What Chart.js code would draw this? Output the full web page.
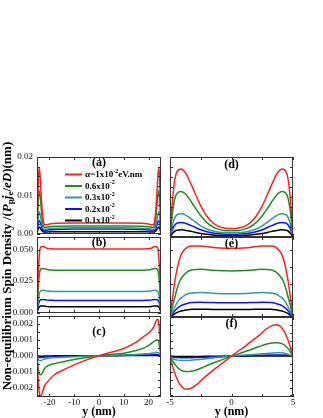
<!DOCTYPE html>
<html><head><meta charset="utf-8">
<script src="https://cdn.jsdelivr.net/npm/chart.js@4/dist/chart.umd.min.js"></script>
<style>
html,body{margin:0;padding:0;background:#fff;}
#wrap{position:relative;width:323px;height:418px;overflow:hidden;background:#fff;}
canvas{position:absolute;}
#ytitle{position:absolute;width:290px;height:16px;left:-138px;top:258px;transform:rotate(-90deg);
 font-family:'Liberation Serif',serif;font-weight:bold;font-size:13px;line-height:16px;text-align:center;white-space:nowrap;color:#000;}
#ytitle sub{font-size:9px;vertical-align:-2px;line-height:0;}
</style></head>
<body><div id="wrap">
<canvas id="ca" width="165" height="96" style="left:0;top:147px"></canvas>
<canvas id="cb" width="165" height="95" style="left:0;top:227px"></canvas>
<canvas id="cc" width="165" height="112" style="left:0;top:306px"></canvas>
<canvas id="cd" width="163" height="96" style="left:160px;top:147px"></canvas>
<canvas id="ce" width="163" height="96" style="left:160px;top:227px"></canvas>
<canvas id="cf" width="163" height="111" style="left:160px;top:307px"></canvas>
<div id="ytitle">Non-equilibrium Spin Density /(<i>P</i><sub>p</sub><i>j</i><sub>e</sub>/<i>eD</i>)(nm)</div>
</div>
<script>
// ---- series labels & colours ----
const seriesLabels = ['α=1x10^{-2}eV.nm', '0.6x10^{-2}', '0.3x10^{-2}', '0.2x10^{-2}', '0.1x10^{-2}'];
const seriesColors = ['#ff1f1f', '#1f8f1f', '#2f9a9a', '#1010ff', '#000000'];

// ---- ticks ----
const xTicksLeft = [-20, -10, 0, 10, 20];
const xLabelsLeft = ['-20', '-10', '0', '10', '20'];
const xTicksRight = [-5, -2.5, 0, 2.5, 5];
const xLabelsRight = ['-5', '', '0', '', '5'];
const yTicksTop = [0, 0.0025, 0.005, 0.0075, 0.01, 0.0125, 0.015, 0.0175, 0.02];
const yLabelsTop = ['0.00', '', '', '', '0.01', '', '', '', '0.02'];
const yTicksMid = [0, 0.0125, 0.025, 0.0375, 0.05];
const yLabelsMid = ['0.000', '', '0.025', '', '0.050'];
const yTicksBot = [-0.0025, -0.002, -0.0015, -0.001, -0.0005, 0, 0.0005, 0.001, 0.0015, 0.002];
const yLabelsBot = ['', '-0.002', '', '-0.001', '', '0.000', '', '0.001', '', '0.002'];

// ---- panel (a) ----
const xA = [-25,-24.6,-24.2,-23.8,-23.3,-22.8,-22.3,-21.8,-21,-20,-17,-10,0,10,17,20,21,21.8,22.3,22.8,23.3,23.8,24.2,24.6,25];
const redA = [0,0.011,0.0172,0.0155,0.010,0.0052,0.0028,0.0023,0.0023,0.0025,0.0027,0.00275,0.00275,0.00275,0.0027,0.0025,0.0023,0.0023,0.0028,0.0052,0.010,0.0155,0.0172,0.011,0];
const greenA = [0,0.0072,0.0112,0.0102,0.0066,0.0035,0.0019,0.0016,0.0017,0.0018,0.0019,0.002,0.002,0.002,0.0019,0.0018,0.0017,0.0016,0.0019,0.0035,0.0066,0.0102,0.0112,0.0072,0];
const tealA = [0,0.0037,0.0057,0.0052,0.0034,0.0019,0.0012,0.0011,0.0012,0.0013,0.0014,0.0015,0.0015,0.0015,0.0014,0.0013,0.0012,0.0011,0.0012,0.0019,0.0034,0.0052,0.0057,0.0037,0];
const blueA = [0,0.0022,0.0034,0.0031,0.0021,0.0012,0.0008,0.0008,0.0009,0.001,0.0011,0.0012,0.0012,0.0012,0.0011,0.001,0.0009,0.0008,0.0008,0.0012,0.0021,0.0031,0.0034,0.0022,0];
const blackA = [0,0.0011,0.0017,0.0015,0.001,0.0006,0.0004,0.0004,0.0004,0.0005,0.0005,0.0005,0.0005,0.0005,0.0005,0.0005,0.0004,0.0004,0.0004,0.0006,0.001,0.0015,0.0017,0.0011,0];

// ---- panel (b) ----
const xB = [-25,-24.5,-24,-23.5,-22.5,-21,-18,-10,0,10,18,21,22.5,23.5,24,24.5,25];
const redB = [0,0.03,0.047,0.052,0.0525,0.051,0.0505,0.0505,0.0505,0.0505,0.0505,0.051,0.0525,0.052,0.047,0.03,0];
const greenB = [0,0.02,0.031,0.0345,0.035,0.0342,0.0337,0.0336,0.0336,0.0336,0.0337,0.0342,0.035,0.0345,0.031,0.02,0];
const tealB = [0,0.010,0.0155,0.0173,0.0177,0.0172,0.0168,0.0167,0.0167,0.0167,0.0168,0.0172,0.0177,0.0173,0.0155,0.010,0];
const blueB = [0,0.006,0.0092,0.0102,0.0104,0.0099,0.0097,0.0096,0.0096,0.0096,0.0097,0.0099,0.0104,0.0102,0.0092,0.006,0];
const blackB = [0,0.003,0.0046,0.0052,0.0053,0.0049,0.0047,0.0046,0.0046,0.0046,0.0047,0.0049,0.0053,0.0052,0.0046,0.003,0];

// ---- panel (c) ----
const xC = [-25,-24.5,-24,-23.4,-22.8,-22,-20.5,-18,-15,-10,-5,0,5,10,15,18,20.5,22,22.8,23.4,24,24.5,25];
const redC = [0,-0.0016,-0.0024,-0.00254,-0.0023,-0.0019,-0.0016,-0.0012,-0.00095,-0.00058,-0.00026,0,0.00022,0.00045,0.00085,0.0012,0.0015,0.0018,0.0021,0.0023,0.0022,0.0012,0];
const greenC = [0,-0.0008,-0.00118,-0.0012,-0.00108,-0.00082,-0.00062,-0.0005,-0.0004,-0.00024,-0.00011,0,0.00008,0.00016,0.00033,0.00048,0.0007,0.00088,0.00097,0.001,0.00092,0.0005,0];
const tealC = [0,-0.00022,-0.0003,-0.0003,-0.00026,-0.00021,-0.00016,-0.00012,-0.0001,-0.00006,-0.00003,0,0.00002,0.00005,0.00008,0.00011,0.00014,0.00017,0.0002,0.00022,0.0002,0.0001,0];
const blueC = [0,-0.00008,-0.00011,-0.00011,-0.0001,-0.00008,-0.00006,-0.00005,-0.00004,-0.00002,-0.00001,0,0.00001,0.00002,0.00003,0.00004,0.00005,0.00006,0.00007,0.00007,0.00006,0.00003,0];
const blackC = [0,-0.00002,-0.00003,-0.00003,-0.00003,-0.00002,-0.00002,-0.00001,-0.00001,-0.00001,0,0,0,0.00001,0.00001,0.00001,0.00002,0.00002,0.00002,0.00002,0.00002,0.00001,0];

// ---- panel (d) ----
const xD = [-5,-4.8,-4.6,-4.4,-4.1,-3.8,-3.4,-3,-2.5,-2,-1.5,-1,-0.5,0,0.5,1,1.5,2,2.5,3,3.4,3.8,4.1,4.4,4.6,4.8,5];
const redD = [0,0.009,0.0145,0.0165,0.017,0.0163,0.014,0.0112,0.0078,0.0052,0.0035,0.0026,0.0022,0.0021,0.0022,0.0026,0.0035,0.0052,0.0078,0.0112,0.014,0.0163,0.017,0.0165,0.0145,0.009,0];
const greenD = [0,0.006,0.0097,0.011,0.0114,0.0109,0.0094,0.0075,0.0053,0.0036,0.0025,0.0019,0.0016,0.0016,0.0016,0.0019,0.0025,0.0036,0.0053,0.0075,0.0094,0.0109,0.0114,0.011,0.0097,0.006,0];
const tealD = [0,0.003,0.0049,0.0056,0.0058,0.0056,0.0048,0.0039,0.0028,0.002,0.0015,0.0012,0.0011,0.0011,0.0011,0.0012,0.0015,0.002,0.0028,0.0039,0.0048,0.0056,0.0058,0.0056,0.0049,0.003,0];
const blueD = [0,0.0019,0.003,0.0035,0.0036,0.0035,0.003,0.0025,0.0018,0.0013,0.001,0.0008,0.0007,0.0007,0.0007,0.0008,0.001,0.0013,0.0018,0.0025,0.003,0.0035,0.0036,0.0035,0.003,0.0019,0];
const blackD = [0,0.0009,0.0015,0.0017,0.0018,0.0017,0.0015,0.0012,0.0009,0.0007,0.0005,0.0004,0.0004,0.0004,0.0004,0.0004,0.0005,0.0007,0.0009,0.0012,0.0015,0.0017,0.0018,0.0017,0.0015,0.0009,0];

// ---- panel (e) ----
const xE = [-5,-4.8,-4.6,-4.4,-4.2,-4,-3.6,-3.2,-2.5,-2,-1.5,-1,-0.5,0,0.5,1,1.5,2,2.5,3.2,3.6,4,4.2,4.4,4.6,4.8,5];
const redE = [0,0.014,0.027,0.037,0.044,0.0485,0.0523,0.0532,0.0532,0.0528,0.0522,0.0518,0.0515,0.0515,0.0515,0.0518,0.0522,0.0528,0.0532,0.0532,0.0523,0.0485,0.044,0.037,0.027,0.014,0];
const greenE = [0,0.008,0.015,0.022,0.027,0.030,0.0338,0.0355,0.0358,0.0355,0.0351,0.0348,0.0346,0.0345,0.0346,0.0348,0.0351,0.0355,0.0358,0.0355,0.0338,0.030,0.027,0.022,0.015,0.008,0];
const tealE = [0,0.004,0.0077,0.011,0.0135,0.015,0.0172,0.018,0.0183,0.0181,0.0178,0.0176,0.0174,0.0174,0.0174,0.0176,0.0178,0.0181,0.0183,0.018,0.0172,0.015,0.0135,0.011,0.0077,0.004,0];
const blueE = [0,0.0025,0.0047,0.0066,0.008,0.009,0.0102,0.0108,0.011,0.0109,0.0108,0.0107,0.0106,0.0106,0.0106,0.0107,0.0108,0.0109,0.011,0.0108,0.0102,0.009,0.008,0.0066,0.0047,0.0025,0];
const blackE = [0,0.0013,0.0025,0.0035,0.0042,0.0047,0.0054,0.0058,0.0059,0.0058,0.0057,0.0057,0.0056,0.0056,0.0056,0.0057,0.0057,0.0058,0.0059,0.0058,0.0054,0.0047,0.0042,0.0035,0.0025,0.0013,0];

// ---- panel (f) ----
const xF = [-5,-4.7,-4.4,-4.1,-3.7,-3.3,-2.8,-2.2,-1.5,-1,-0.5,0,0.5,1,1.5,2.2,2.8,3.3,3.7,4.1,4.4,4.7,5];
const redF = [0,-0.0009,-0.0015,-0.0019,-0.0021,-0.00205,-0.0018,-0.00135,-0.0009,-0.0006,-0.0003,0,0.0003,0.00057,0.00088,0.0013,0.00172,0.00195,0.002,0.0018,0.0014,0.0008,0];
const greenF = [0,-0.0004,-0.0007,-0.0009,-0.00098,-0.00096,-0.00086,-0.00066,-0.00043,-0.00029,-0.00014,0,0.00013,0.00027,0.0004,0.0006,0.00076,0.00084,0.00086,0.0008,0.00065,0.00038,0];
const tealF = [0,-0.00018,-0.00025,-0.00028,-0.00028,-0.00026,-0.00022,-0.00017,-0.00011,-0.00007,-0.00004,0,0.00004,0.00007,0.0001,0.00014,0.00018,0.0002,0.00022,0.00022,0.00018,0.0001,0];
const blueF = [0,-0.00006,-0.00009,-0.0001,-0.0001,-0.0001,-0.00008,-0.00006,-0.00004,-0.00003,-0.00001,0,0.00001,0.00003,0.00004,0.00005,0.00007,0.00008,0.00008,0.00008,0.00007,0.00004,0];
const blackF = [0,-0.00001,-0.00002,-0.00002,-0.00002,-0.00002,-0.00002,-0.00001,-0.00001,0,0,0,0,0,0.00001,0.00001,0.00001,0.00002,0.00002,0.00002,0.00002,0.00001,0];

const SERIF = "'Liberation Serif', 'Times New Roman', serif";

// frame + inward ticks
const framePlugin = {
  id: 'frame',
  afterDraw(chart) {
    const {ctx, chartArea: a, scales} = chart;
    ctx.save();
    ctx.strokeStyle = '#333';
    ctx.lineWidth = 1;
    ctx.beginPath();
    scales.x.ticks.forEach(t => {
      const p = Math.round(scales.x.getPixelForValue(t.value)) + 0.5;
      ctx.moveTo(p, a.bottom); ctx.lineTo(p, a.bottom - 3);
      ctx.moveTo(p, a.top); ctx.lineTo(p, a.top + 3);
    });
    scales.y.ticks.forEach(t => {
      const p = Math.round(scales.y.getPixelForValue(t.value)) + 0.5;
      ctx.moveTo(a.left, p); ctx.lineTo(a.left + 3, p);
      ctx.moveTo(a.right, p); ctx.lineTo(a.right - 3, p);
    });
    ctx.stroke();
    ctx.strokeRect(Math.round(a.left) + 0.5, Math.round(a.top) + 0.5, Math.round(a.width) - 1, Math.round(a.height) - 1);
    ctx.restore();
  }
};

// panel label and inside legend
const annotPlugin = {
  id: 'annot',
  afterDatasetsDraw(chart, args, opts) {
    const {ctx, chartArea: a} = chart;
    ctx.save();
    ctx.fillStyle = '#000';
    ctx.font = 'bold 12px ' + SERIF;
    ctx.textAlign = 'center';
    ctx.textBaseline = 'middle';
    ctx.fillText(opts.label, (a.left + a.right) / 2, a.top + opts.labelDy);
    if (opts.legend) {
      chart.data.datasets.forEach((ds, i) => {
        const y = a.top + opts.legendTop + i * opts.legendGap;
        const x0 = a.left + opts.legendLeft;
        ctx.strokeStyle = ds.borderColor;
        ctx.lineWidth = 2;
        ctx.beginPath(); ctx.moveTo(x0, y); ctx.lineTo(x0 + 17, y); ctx.stroke();
        const m = ds.label.match(/^(.*?)\^\{(.*?)\}(.*)$/);
        let x = x0 + 20;
        ctx.textAlign = 'left';
        ctx.textBaseline = 'middle';
        ctx.fillStyle = '#000';
        const parts = m ? [[m[1], 0], [m[2], 1], [m[3], 0]] : [[ds.label, 0]];
        parts.forEach(([txt, sup]) => {
          ctx.font = sup ? 'bold 6px ' + SERIF : 'bold 9px ' + SERIF;
          ctx.fillText(txt, x, sup ? y - 3.5 : y + 0.5);
          x += ctx.measureText(txt).width;
        });
      });
    }
    ctx.restore();
  }
};

function makeDatasets(xs, series) {
  return series.map((vals, i) => ({
    label: seriesLabels[i],
    data: xs.map((x, j) => ({x: x, y: vals[j]})),
    borderColor: seriesColors[i],
    borderWidth: 1.5,
    pointRadius: 0,
    fill: false,
    cubicInterpolationMode: 'monotone'
  }));
}

function makePanel(id, o) {
  const tickFont = {family: SERIF, size: 9};
  new Chart(document.getElementById(id), {
    type: 'line',
    data: {datasets: makeDatasets(o.xs, o.series)},
    options: {
      responsive: false,
      animation: false,
      devicePixelRatio: 1,
      layout: {padding: o.padding},
      plugins: {
        legend: {display: false},
        tooltip: {enabled: false},
        annot: {label: o.label, labelDy: o.labelDy, legend: !!o.legend, legendTop: 17.5, legendGap: 11.5, legendLeft: 28}
      },
      scales: {
        x: {
          type: 'linear', min: o.xmin, max: o.xmax,
          afterBuildTicks: s => { s.ticks = o.xTicks.map(v => ({value: v})); },
          ticks: {display: !!o.xAxis, font: tickFont, color: '#111', padding: 0, autoSkip: false, maxRotation: 0,
                  callback: (v, i) => o.xLabels[i]},
          grid: {display: false, drawTicks: false},
          border: {display: false},
          title: {display: !!o.xAxis, text: 'y (nm)', color: '#000', font: {family: SERIF, size: 12, weight: 'bold', lineHeight: 1}, padding: {top: 0, bottom: 0}},
          afterFit: s => { s.height = o.xAxis ? 21 : 0; }
        },
        y: {
          type: 'linear', min: o.ymin, max: o.ymax,
          afterBuildTicks: s => { s.ticks = o.yTicks.map(v => ({value: v})); },
          ticks: {display: !!o.yAxis, font: tickFont, color: '#111', padding: 4, autoSkip: false,
                  callback: (v, i) => o.yLabels[i]},
          grid: {display: false, drawTicks: false},
          border: {display: false},
          afterFit: s => { s.width = o.yAxis ? 37 : 0; }
        }
      }
    },
    plugins: [annotPlugin, framePlugin]
  });
}

const left = {xmin: -25, xmax: 25, xTicks: xTicksLeft, xLabels: xLabelsLeft, yAxis: true};
const right = {xmin: -5, xmax: 5, xTicks: xTicksRight, xLabels: xLabelsRight, yAxis: false};

makePanel('ca', Object.assign({}, left, {xs: xA, series: [redA, greenA, tealA, blueA, blackA], ymin: 0, ymax: 0.02,
  yTicks: yTicksTop, yLabels: yLabelsTop, label: '(a)', labelDy: 6, legend: true,
  padding: {left: 0, right: 4, top: 10, bottom: 6}}));
makePanel('cb', Object.assign({}, left, {xs: xB, series: [redB, greenB, tealB, blueB, blackB], ymin: 0, ymax: 0.06,
  yTicks: yTicksMid, yLabels: yLabelsMid, label: '(b)', labelDy: 6,
  padding: {left: 0, right: 4, top: 10, bottom: 6}}));
makePanel('cc', Object.assign({}, left, {xs: xC, series: [redC, greenC, tealC, blueC, blackC], ymin: -0.0026, ymax: 0.0025,
  yTicks: yTicksBot, yLabels: yLabelsBot, label: '(c)', labelDy: 16, xAxis: true,
  padding: {left: 0, right: 4, top: 10, bottom: 0}}));
makePanel('cd', Object.assign({}, right, {xs: xD, series: [redD, greenD, tealD, blueD, blackD], ymin: 0, ymax: 0.02,
  yTicks: yTicksTop, yLabels: yLabelsTop, label: '(d)', labelDy: 8,
  padding: {left: 10, right: 30, top: 10, bottom: 6}}));
makePanel('ce', Object.assign({}, right, {xs: xE, series: [redE, greenE, tealE, blueE, blackE], ymin: 0, ymax: 0.06,
  yTicks: yTicksMid, yLabels: yLabelsMid, label: '(e)', labelDy: 6.5,
  padding: {left: 10, right: 30, top: 10, bottom: 6}}));
makePanel('cf', Object.assign({}, right, {xs: xF, series: [redF, greenF, tealF, blueF, blackF], ymin: -0.0026, ymax: 0.0025,
  yTicks: yTicksBot, yLabels: yLabelsBot, label: '(f)', labelDy: 7, xAxis: true,
  padding: {left: 10, right: 30, top: 10, bottom: 0}}));
</script>
</body></html>
